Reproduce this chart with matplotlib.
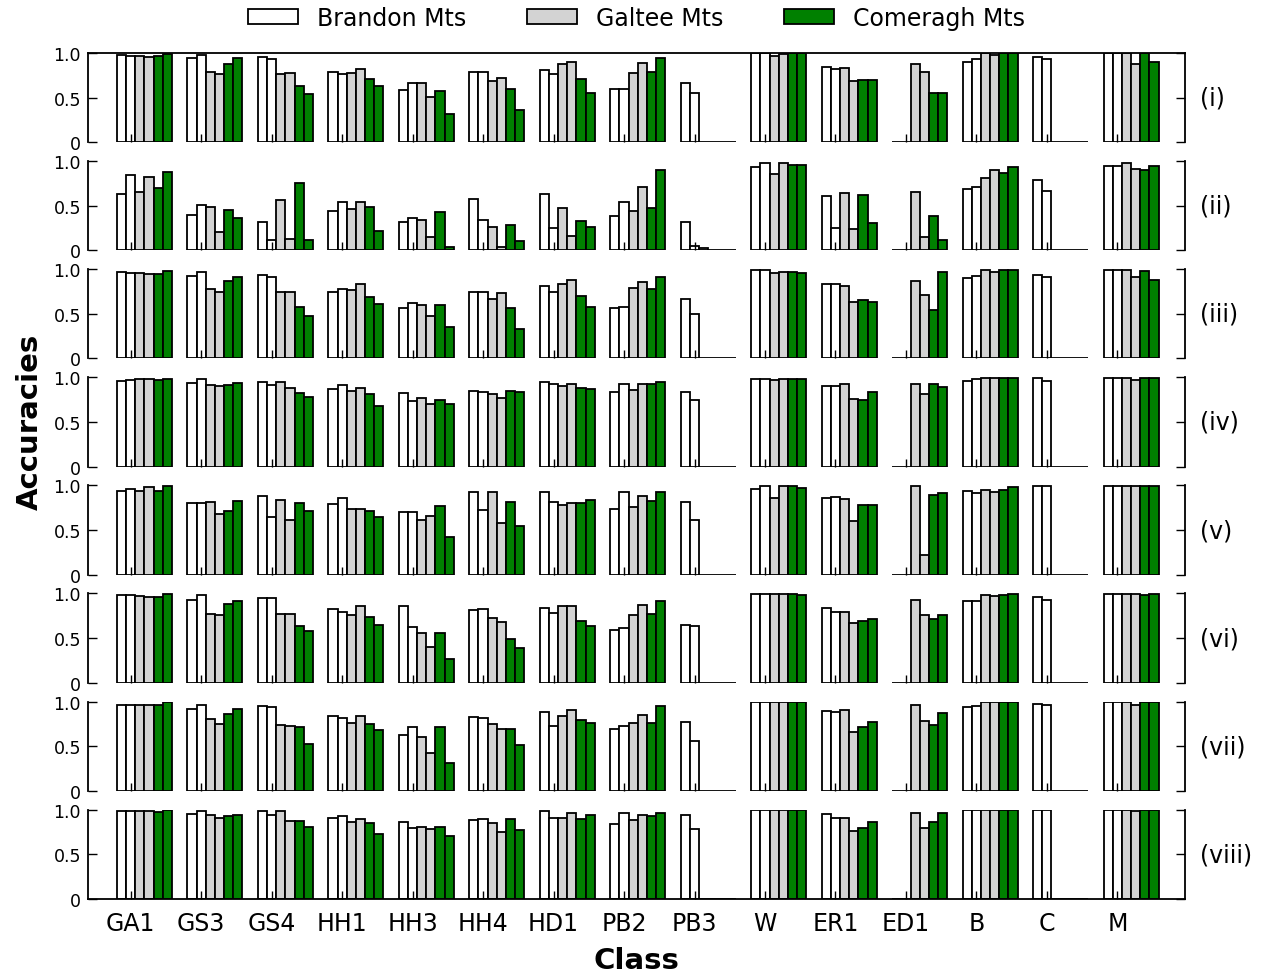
import matplotlib.pyplot as plt
import numpy as np

classes = ['GA1', 'GS3', 'GS4', 'HH1', 'HH3', 'HH4', 'HD1', 'PB2', 'PB3',
           'W', 'ER1', 'ED1', 'B', 'C', 'M']
regions = ['Brandon Mts', 'Galtee Mts', 'Comeragh Mts']
row_names = ['(i)', '(ii)', '(iii)', '(iv)', '(v)', '(vi)', '(vii)', '(viii)']

# six bars per class: two per mountain range
acc_i = [[0.98, 0.97, 0.97, 0.95, 0.97, 0.99], [0.94, 0.98, 0.79, 0.76, 0.88, 0.94],
         [0.95, 0.93, 0.77, 0.78, 0.63, 0.54], [0.79, 0.76, 0.78, 0.82, 0.71, 0.63],
         [0.59, 0.66, 0.66, 0.51, 0.57, 0.32], [0.79, 0.79, 0.69, 0.72, 0.60, 0.36],
         [0.81, 0.77, 0.88, 0.90, 0.71, 0.55], [0.60, 0.60, 0.78, 0.89, 0.79, 0.94],
         [0.66, 0.55, 0, 0, 0, 0], [1.0, 1.0, 0.97, 0.99, 1.0, 1.0],
         [0.84, 0.82, 0.83, 0.69, 0.70, 0.70], [0, 0, 0.88, 0.79, 0.55, 0.55],
         [0.90, 0.93, 1.0, 0.98, 1.0, 1.0], [0.96, 0.93, 0, 0, 0, 0],
         [1.0, 1.0, 1.0, 0.88, 1.0, 0.90]]
acc_ii = [[0.63, 0.84, 0.65, 0.82, 0.70, 0.88], [0.40, 0.51, 0.49, 0.21, 0.45, 0.36],
          [0.32, 0.12, 0.56, 0.13, 0.75, 0.12], [0.44, 0.54, 0.46, 0.54, 0.49, 0.22],
          [0.32, 0.36, 0.34, 0.15, 0.43, 0.04], [0.57, 0.34, 0.26, 0.04, 0.29, 0.11],
          [0.63, 0.25, 0.48, 0.16, 0.33, 0.26], [0.38, 0.54, 0.44, 0.71, 0.47, 0.90],
          [0.32, 0.05, 0.03, 0, 0, 0], [0.93, 0.98, 0.86, 0.98, 0.96, 0.96],
          [0.61, 0.25, 0.64, 0.24, 0.62, 0.31], [0, 0, 0.65, 0.15, 0.39, 0.12],
          [0.69, 0.71, 0.81, 0.90, 0.87, 0.93], [0.79, 0.66, 0, 0, 0, 0],
          [0.94, 0.95, 0.98, 0.91, 0.90, 0.94]]
acc_iii = [[0.97, 0.96, 0.96, 0.95, 0.95, 0.98], [0.92, 0.97, 0.78, 0.74, 0.87, 0.91],
           [0.93, 0.91, 0.74, 0.74, 0.58, 0.48], [0.75, 0.78, 0.77, 0.83, 0.69, 0.61],
           [0.57, 0.62, 0.60, 0.48, 0.60, 0.35], [0.75, 0.75, 0.67, 0.73, 0.57, 0.33],
           [0.81, 0.74, 0.83, 0.88, 0.70, 0.58], [0.57, 0.58, 0.79, 0.86, 0.78, 0.91],
           [0.67, 0.50, 0, 0, 0, 0], [0.99, 0.99, 0.96, 0.97, 0.97, 0.96],
           [0.83, 0.83, 0.81, 0.63, 0.65, 0.63], [0, 0, 0.87, 0.71, 0.54, 0.97],
           [0.90, 0.92, 0.99, 0.97, 0.99, 0.99], [0.93, 0.91, 0, 0, 0, 0],
           [0.99, 0.99, 0.99, 0.91, 0.98, 0.88]]
acc_iv = [[0.96, 0.97, 0.98, 0.98, 0.97, 0.98], [0.94, 0.98, 0.91, 0.90, 0.91, 0.94],
          [0.95, 0.91, 0.95, 0.88, 0.82, 0.78], [0.87, 0.91, 0.85, 0.88, 0.81, 0.68],
          [0.82, 0.73, 0.77, 0.70, 0.75, 0.70], [0.85, 0.83, 0.81, 0.77, 0.85, 0.83],
          [0.95, 0.93, 0.90, 0.93, 0.88, 0.87], [0.83, 0.92, 0.86, 0.93, 0.93, 0.95],
          [0.83, 0.74, 0, 0, 0, 0], [0.98, 0.98, 0.97, 0.98, 0.98, 0.98],
          [0.90, 0.90, 0.93, 0.76, 0.74, 0.83], [0, 0, 0.93, 0.81, 0.93, 0.89],
          [0.96, 0.98, 0.99, 0.99, 0.99, 0.99], [0.99, 0.96, 0, 0, 0, 0],
          [0.99, 0.99, 0.99, 0.97, 0.99, 0.99]]
acc_v = [[0.94, 0.96, 0.94, 0.98, 0.94, 0.99], [0.80, 0.80, 0.81, 0.68, 0.71, 0.83],
         [0.88, 0.65, 0.84, 0.61, 0.80, 0.71], [0.79, 0.86, 0.73, 0.74, 0.71, 0.65],
         [0.70, 0.70, 0.61, 0.66, 0.77, 0.42], [0.92, 0.72, 0.92, 0.58, 0.81, 0.55],
         [0.92, 0.81, 0.78, 0.80, 0.80, 0.84], [0.74, 0.92, 0.76, 0.88, 0.82, 0.93],
         [0.81, 0.61, 0, 0, 0, 0], [0.96, 0.99, 0.86, 0.99, 0.99, 0.97],
         [0.86, 0.87, 0.85, 0.60, 0.78, 0.78], [0, 0, 0.99, 0.22, 0.89, 0.91],
         [0.94, 0.91, 0.95, 0.93, 0.95, 0.98], [0.99, 0.99, 0, 0, 0, 0],
         [0.99, 0.99, 0.99, 0.99, 0.99, 0.99]]
acc_vi = [[0.98, 0.98, 0.97, 0.96, 0.96, 0.99], [0.93, 0.98, 0.77, 0.76, 0.88, 0.92],
          [0.95, 0.95, 0.77, 0.77, 0.63, 0.58], [0.83, 0.79, 0.76, 0.86, 0.74, 0.65],
          [0.86, 0.62, 0.56, 0.40, 0.56, 0.27], [0.81, 0.83, 0.72, 0.68, 0.49, 0.39],
          [0.84, 0.78, 0.86, 0.86, 0.69, 0.64], [0.59, 0.61, 0.76, 0.87, 0.77, 0.92],
          [0.65, 0.63, 0, 0, 0, 0], [0.99, 0.99, 0.99, 0.99, 0.99, 0.98],
          [0.84, 0.79, 0.79, 0.67, 0.69, 0.71], [0, 0, 0.93, 0.76, 0.71, 0.76],
          [0.91, 0.92, 0.98, 0.97, 0.98, 0.99], [0.96, 0.93, 0, 0, 0, 0],
          [0.99, 0.99, 0.99, 0.99, 0.98, 0.99]]
acc_vii = [[0.96, 0.96, 0.96, 0.96, 0.96, 0.99], [0.92, 0.96, 0.80, 0.75, 0.86, 0.92],
           [0.95, 0.94, 0.74, 0.73, 0.71, 0.53], [0.84, 0.82, 0.76, 0.84, 0.75, 0.68],
           [0.63, 0.72, 0.60, 0.42, 0.71, 0.31], [0.83, 0.82, 0.75, 0.69, 0.69, 0.51],
           [0.88, 0.73, 0.84, 0.90, 0.79, 0.76], [0.69, 0.73, 0.76, 0.85, 0.76, 0.95],
           [0.77, 0.56, 0, 0, 0, 0], [0.99, 0.99, 0.99, 0.99, 0.99, 0.99],
           [0.89, 0.88, 0.90, 0.66, 0.71, 0.77], [0, 0, 0.96, 0.78, 0.74, 0.87],
           [0.94, 0.95, 0.99, 0.99, 0.99, 0.99], [0.97, 0.96, 0, 0, 0, 0],
           [0.99, 0.99, 0.99, 0.96, 0.99, 0.99]]
acc_viii = [[0.99, 0.98, 0.99, 0.99, 0.97, 1.0], [0.95, 0.98, 0.94, 0.91, 0.93, 0.94],
            [0.98, 0.94, 0.98, 0.87, 0.87, 0.81], [0.91, 0.93, 0.86, 0.89, 0.85, 0.73],
            [0.86, 0.79, 0.81, 0.78, 0.81, 0.70], [0.88, 0.90, 0.85, 0.75, 0.89, 0.77],
            [0.98, 0.91, 0.91, 0.96, 0.89, 0.94], [0.84, 0.96, 0.88, 0.94, 0.93, 0.96],
            [0.94, 0.78, 0, 0, 0, 0], [1.0, 1.0, 1.0, 1.0, 1.0, 1.0],
            [0.95, 0.91, 0.91, 0.76, 0.79, 0.86], [0, 0, 0.96, 0.79, 0.86, 0.96],
            [1.0, 1.0, 1.0, 1.0, 1.0, 1.0], [1.0, 1.0, 0, 0, 0, 0],
            [1.0, 1.0, 1.0, 0.98, 1.0, 1.0]]

rows = [acc_i, acc_ii, acc_iii, acc_iv, acc_v, acc_vi, acc_vii, acc_viii]
bar_colors = ['white', 'white', 'lightgray', 'lightgray', 'green', 'green']

width = 0.13
ind = np.arange(len(classes))

fig, axes = plt.subplots(8, 1, figsize=(12.63, 9.78), dpi=100, sharex=True)
fig.subplots_adjust(left=0.0697, right=0.938, top=0.9448, bottom=0.0798, hspace=0.21)

handles = []
for r, ax in enumerate(axes):
    data = np.array(rows[r])
    for k in range(6):
        b = ax.bar(ind + k * width, data[:, k], width, align='edge',
                   color=bar_colors[k], edgecolor='black', linewidth=1.3)
        if r == 0 and k % 2 == 0:
            handles.append(b)
    ax.set_ylim(0, 1.0)
    ax.set_xlim(-0.41, 15.15)
    ax.set_yticks([0, 0.5, 1.0])
    ax.set_yticklabels(['0', '0.5', '1.0'], fontsize=12.5)
    ax.set_xticks(ind + 1.5 * width)
    ax.tick_params(axis='y', direction='in', length=6.5, width=1, left=True, right=True, pad=5)
    ax.tick_params(axis='x', direction='in', length=6, width=1, top=False, pad=9)
    for s in ax.spines.values():
        s.set_linewidth(1.3)
    ax.spines['top'].set_visible(r == 0)
    ax.spines['bottom'].set_visible(r == 7)
    ax.text(1.0137, 0.5, row_names[r], transform=ax.transAxes,
            ha='left', va='center', fontsize=17)

axes[-1].set_xticklabels(classes, fontsize=17)

fig.legend(handles, regions, loc='center', bbox_to_anchor=(0.504, 0.981), ncol=3,
           frameon=False, fontsize=17, handlelength=2.1, handleheight=0.6,
           handletextpad=0.8, columnspacing=2.6)
fig.text(0.024, 1 - 422 / 978, 'Accuracies', rotation=90, ha='center', va='center',
         fontsize=21, fontweight='bold')
fig.text(0.504, 0.0174, 'Class', ha='center', va='center', fontsize=21, fontweight='bold')

plt.savefig('out.png', dpi=100)
